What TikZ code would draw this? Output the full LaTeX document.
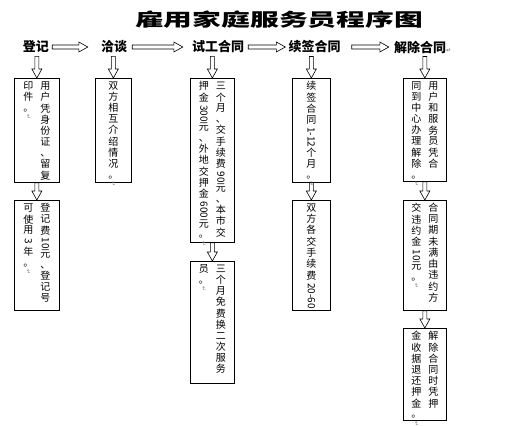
\documentclass[tikz,border=0pt]{standalone}
\usepackage{fontspec, graphicx}
\usetikzlibrary{calc}
\newfontfamily\cjk{Noto Sans CJK SC}
\newfontfamily\symfont{DejaVu Sans}
\makeatletter
\newcommand\vcol[1]{\vtop{\offinterlineskip
    \@tfor\vchar:=#1\do{\hbox to 12pt{\hss\vrule width 0pt height 7.8pt depth 2.9pt\vchar\hss}}}}
\makeatother
\newcommand\vnum[1]{\rotatebox[origin=c]{-90}{\kern1pt#1\kern1pt}}
\newcommand\retmark{{\symfont\fontsize{6}{6}\selectfont\color{gray}↵}}
\newcommand\vret{\raisebox{3pt}{\rotatebox[origin=c]{-90}{\retmark}}}
\newcommand\cols[2]{\vbox to #1{\hbox{#2}\vss}}
\tikzset{
    steplabel/.style={font=\cjk\bfseries\fontsize{13}{13}\selectfont, inner sep=2pt},
    stepbox/.style={draw, line width=.7pt, anchor=north west, inner xsep=0pt,
        inner ysep=3pt, font=\cjk\fontsize{10}{11}\selectfont},
    blockarrow/.style={draw, line width=.6pt, to path={
        let \p1=(\tikztostart), \p2=(\tikztotarget), \p3=($(\p2)!9pt!(\p1)$) in
        ($(\p1)!2pt!90:(\p2)$) -- ($(\p3)!2pt!-90:(\p1)$) -- ($(\p3)!5pt!-90:(\p1)$)
        -- (\p2) -- ($(\p3)!5pt!90:(\p1)$) -- ($(\p3)!2pt!90:(\p1)$)
        -- ($(\p1)!2pt!-90:(\p2)$) -- cycle}},
}

\begin{document}
\begin{tikzpicture}[x=1pt, y=-1pt]
    \useasboundingbox (0,0) rectangle (512,426);
    \node (title) at (279,19.5) {\scalebox{1.6}[1]{\cjk\bfseries\fontsize{18}{18}\selectfont
        雇用家庭服务员程序图}};

    % Steps along the top
    \node[steplabel] (reg) at (36,47) {登记};
    \node[steplabel] (talk) at (114,47) {洽谈};
    \node[steplabel] (trial) at (218,47) {试工合同};
    \node[steplabel] (renew) at (314.5,47) {续签合同};
    \node[steplabel] (quit) at (420,47) {解除合同\rlap{\retmark}};

    \draw[blockarrow] ([xshift=1pt]reg.east) to ([xshift=-11pt]talk.west);
    \draw[blockarrow] ([xshift=3pt]talk.east) to ([xshift=-7pt]trial.west);
    \draw[blockarrow] ([xshift=2pt]trial.east) to ([xshift=-1pt]renew.west);
    \draw[blockarrow] ([xshift=9pt]renew.east) to ([xshift=-3pt]quit.west);

    % Boxes under each step, text set top to bottom
    \node[stepbox, minimum width=45pt] (reg1) at (14,78)
        {\cols{98pt}{\vcol{印件。\vret}\kern5pt\vcol{用户凭身份证、留复}}};
    \node[stepbox, minimum width=45pt] (reg2) at (14,200)
        {\cols{104pt}{\vcol{可使用{\vnum{3}}年。\vret}\kern5pt\vcol{登记费{\vnum{10}}元、登记号}}};
    \node[stepbox, minimum width=36pt] (talk1) at (95,78)
        {\cols{98pt}{\vcol{双方相互介绍情况。\vret}}};
    \node[stepbox, minimum width=44pt] (trial1) at (190,78)
        {\cols{158pt}{\vcol{押金{\vnum{300}}元、外地交押金{\vnum{600}}元。\vret}\kern5pt
        \vcol{三个月、交手续费{\vnum{90}}元、本市交}}};
    \node[stepbox, minimum width=44pt] (trial2) at (190,261)
        {\cols{116pt}{\vcol{员。\vret}\kern5pt\vcol{三个月免费换二次服务}}};
    \node[stepbox, minimum width=38pt] (renew1) at (292,78)
        {\cols{98pt}{\vcol{续签合同{\vnum{1-12}}个月。\vret}}};
    \node[stepbox, minimum width=38pt] (renew2) at (292,200)
        {\cols{104pt}{\vcol{双方各交手续费{\vnum{20-60}}}}};
    \node[stepbox, minimum width=43pt] (quit1) at (403,78)
        {\cols{97pt}{\vcol{同到中心办理解除。\vret}\kern5pt\vcol{用户和服务员凭合}}};
    \node[stepbox, minimum width=43pt] (quit2) at (403,200)
        {\cols{104pt}{\vcol{交违约金{\vnum{10}}元。\vret}\kern5pt\vcol{合同期未满由违约方}}};
    \node[stepbox, minimum width=43pt] (quit3) at (403,328)
        {\cols{86pt}{\vcol{金收据退还押金。\vret}\kern5pt\vcol{解除合同时凭押}}};

    \foreach \s/\b in {reg/reg1, talk/talk1, trial/trial1, renew/renew1, quit/quit1}
        \draw[blockarrow] ([yshift=-1pt]\s.south -| \b.north) to (\b.north);
    \foreach \a/\b in {reg1/reg2, trial1/trial2, renew1/renew2, quit1/quit2, quit2/quit3}
        \draw[blockarrow] (\a.south) to (\b.north);
\end{tikzpicture}
\end{document}
